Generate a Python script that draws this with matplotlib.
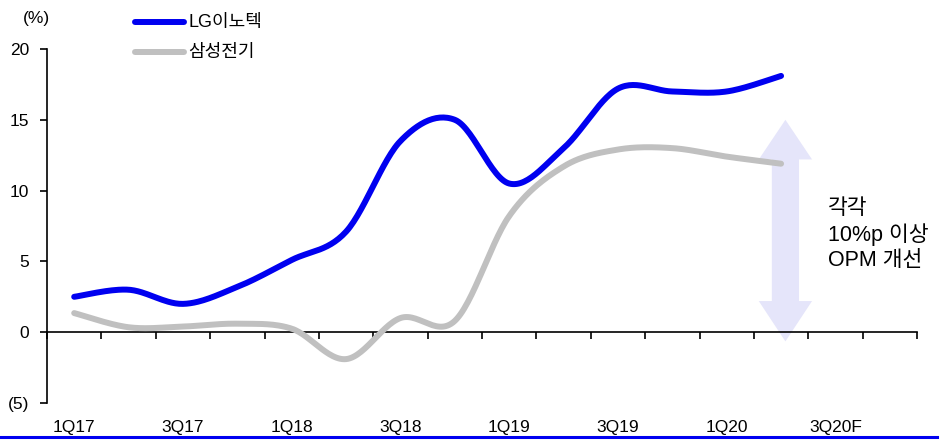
import numpy as np
import matplotlib.pyplot as plt
from matplotlib.patches import Polygon
import matplotlib.transforms as mtransforms

plt.rcParams['font.family'] = ['Liberation Sans', 'Noto Sans CJK KR']

# 분기 (16개 구간, 라벨은 격분기)
quarters = ['1Q17', '2Q17', '3Q17', '4Q17', '1Q18', '2Q18', '3Q18', '4Q18',
            '1Q19', '2Q19', '3Q19', '4Q19', '1Q20', '2Q20', '3Q20F', '4Q20F']
lg_innotek = [2.5, 3.0, 2.0, 3.2, 5.1, 7.1, 13.5, 15.0, 10.5, 13.0, 17.2, 17.0, 17.0, 18.1]
samsung_em = [1.35, 0.35, 0.4, 0.6, 0.25, -1.9, 1.0, 0.8, 8.2, 11.7, 12.9, 13.0, 12.4, 11.9]
y_ticks = [-5, 0, 5, 10, 15, 20]
y_labels = ['(5)', '0', '5', '10', '15', '20']


def smooth(x, y, n=30):
    # Excel 식 부드러운 선 (Catmull-Rom 베지어)
    x = np.asarray(x, float)
    y = np.asarray(y, float)
    px = np.concatenate([[x[0]], x, [x[-1]]])
    py = np.concatenate([[y[0]], y, [y[-1]]])
    xs, ys = [], []
    t = np.linspace(0, 1, n)
    for i in range(1, len(px) - 2):
        p0 = np.array([px[i], py[i]])
        p3 = np.array([px[i + 1], py[i + 1]])
        p1 = p0 + (np.array([px[i + 1], py[i + 1]]) - np.array([px[i - 1], py[i - 1]])) / 6
        p2 = p3 - (np.array([px[i + 2], py[i + 2]]) - np.array([px[i], py[i]])) / 6
        b = ((1 - t) ** 3)[:, None] * p0 + (3 * (1 - t) ** 2 * t)[:, None] * p1 \
            + (3 * (1 - t) * t ** 2)[:, None] * p2 + (t ** 3)[:, None] * p3
        xs.extend(b[:, 0])
        ys.extend(b[:, 1])
    return np.array(xs), np.array(ys)


fig = plt.figure(figsize=(9.52, 4.44), dpi=100)
ax = fig.add_axes([47 / 952, 1 - 403 / 444, 870 / 952, 354 / 444])

x_lg = np.arange(len(lg_innotek)) + 0.5
x_ss = np.arange(len(samsung_em)) + 0.5

sx, sy = smooth(x_ss, samsung_em)
ax.plot(sx, sy, color='#c0c0c0', lw=4.3, solid_capstyle='round', zorder=3)
lx, ly = smooth(x_lg, lg_innotek)
ax.plot(lx, ly, color='#0000f0', lw=4.3, solid_capstyle='round', zorder=4)

# 화살표
cx = 13.58
arrow = Polygon([[cx, 15.0], [cx + 0.49, 12.2], [cx + 0.25, 12.2], [cx + 0.25, 2.2],
                 [cx + 0.49, 2.2], [cx, -0.65], [cx - 0.49, 2.2], [cx - 0.25, 2.2],
                 [cx - 0.25, 12.2], [cx - 0.49, 12.2]],
                closed=True, facecolor='#e5e5fa', edgecolor='none', zorder=2)
ax.add_patch(arrow)
ax.text(14.36, 9.5, '각각\n10%p 이상\nOPM 개선', fontsize=15.5, va='top', ha='left',
        linespacing=1.25, zorder=5)

ax.set_xlim(0, 16)
ax.set_ylim(-5, 20)
ax.spines['top'].set_visible(False)
ax.spines['right'].set_visible(False)
ax.spines['bottom'].set_position(('data', 0))
ax.spines['bottom'].set_linewidth(1.2)
ax.spines['left'].set_linewidth(1.2)
ax.set_xticks(np.arange(0, 17))
ax.set_xticklabels([])
ax.tick_params(axis='x', direction='out', length=5, width=1.2)
ax.set_yticks(y_ticks)
ax.set_yticklabels(y_labels, fontsize=12.5)
ax.tick_params(axis='y', direction='out', length=5, width=1.2, pad=8)

trans = mtransforms.blended_transform_factory(ax.transData, ax.transAxes)
for i, q in enumerate(quarters):
    if i % 2 == 0:
        ax.text(i + 0.5, -0.07, q, transform=trans, ha='center', va='center', fontsize=12.5)

fig.text(36 / 952, 1 - 18 / 444, '(%)', ha='center', va='center', fontsize=12.5)

# 범례
fig.add_artist(plt.Line2D([135 / 952, 184 / 952], [1 - 22 / 444] * 2, color='#0000f0',
                          lw=4.3, solid_capstyle='round'))
fig.add_artist(plt.Line2D([135 / 952, 184 / 952], [1 - 52 / 444] * 2, color='#c0c0c0',
                          lw=4.3, solid_capstyle='round'))
fig.text(188 / 952, 1 - 22 / 444, 'LG이노텍', ha='left', va='center', fontsize=13)
fig.text(188 / 952, 1 - 52 / 444, '삼성전기', ha='left', va='center', fontsize=13)

# 하단 파란 선
fig.add_artist(plt.Line2D([0, 937 / 952], [1 - 437 / 444] * 2, color='#0000f0', lw=2.2))

fig.savefig('out.png', dpi=100)
